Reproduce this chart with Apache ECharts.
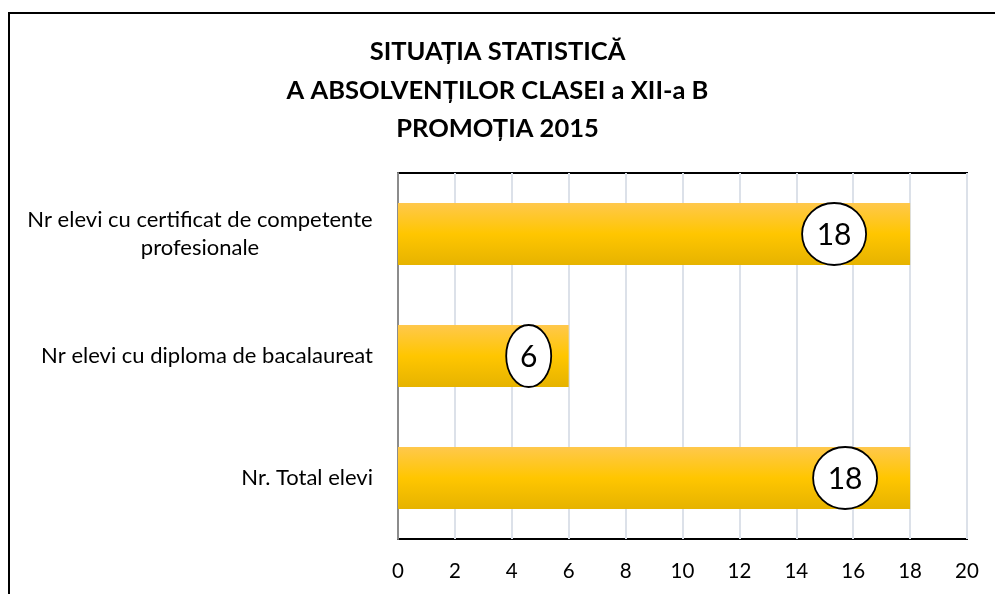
<!DOCTYPE html>
<html>
<head>
<meta charset="utf-8">
<script src="https://cdn.jsdelivr.net/npm/echarts@6/dist/echarts.min.js"></script>
<style>
  html, body { margin: 0; padding: 0; background: #fff; }
  #chart { width: 995px; height: 594px; }
</style>
</head>
<body>
<div id="chart"></div>
<script>
const titleLines = ["SITUAȚIA STATISTICĂ", "A ABSOLVENȚILOR CLASEI a XII-a B", "PROMOȚIA 2015"];
const categories = [
  "Nr. Total elevi",
  "Nr elevi cu diploma de bacalaureat",
  "Nr elevi cu certificat de competente profesionale",
];
const values = [18, 6, 18];
const xTicks = [0, 2, 4, 6, 8, 10, 12, 14, 16, 18, 20];

// callout bubbles sit a bit left of the bar end, like the Excel data callouts
const calloutShift = [65, 40, 76];
const calloutRx = [32, 22.5, 32];

const chart = echarts.init(document.getElementById("chart"));

const option = {
  animation: false,
  backgroundColor: "#fff",
  title: {
    text: titleLines.join("\n"),
    left: "center",
    top: 28,
    textStyle: {
      fontFamily: "Lato",
      fontWeight: "bold",
      fontSize: 25.5,
      lineHeight: 38.5,
      color: "#000",
    },
  },
  graphic: [
    {
      type: "rect",
      shape: { x: 9, y: 13, width: 1000, height: 600 },
      style: { fill: "none", stroke: "#000", lineWidth: 2 },
      silent: true,
    },
  ],
  grid: {
    left: 398,
    right: 28,
    top: 173,
    bottom: 55,
    show: true,
    borderColor: "#000",
    borderWidth: 2,
  },
  xAxis: {
    type: "value",
    min: xTicks[0],
    max: xTicks[xTicks.length - 1],
    interval: 2,
    axisLine: { show: false },
    axisTick: { show: false },
    axisLabel: {
      fontFamily: "Lato",
      fontSize: 20.5,
      color: "#000",
      margin: 22,
    },
    splitLine: { show: true, lineStyle: { color: "#dce1e9", width: 2 } },
  },
  yAxis: {
    type: "category",
    data: categories,
    axisLine: { show: true, lineStyle: { color: "#8c8c8c", width: 2 } },
    axisTick: { show: false },
    axisLabel: {
      margin: 25,
      color: "#000",
      fontFamily: "Lato",
      fontSize: 22,
      formatter: function (v) {
        if (v.indexOf("profesionale") >= 0) {
          return "{c|" + v.replace(" profesionale", "") + "}\n{c|profesionale}";
        }
        return v;
      },
      rich: {
        c: {
          width: 346,
          align: "center",
          fontFamily: "Lato",
          fontSize: 22,
          lineHeight: 28,
          color: "#000",
        },
      },
    },
  },
  series: [
    {
      type: "bar",
      data: values,
      barWidth: 62,
      itemStyle: {
        color: new echarts.graphic.LinearGradient(0, 0, 0, 1, [
          { offset: 0, color: "#ffc84c" },
          { offset: 0.5, color: "#ffc600" },
          { offset: 1, color: "#e6b300" },
        ]),
      },
      z: 2,
    },
    {
      type: "custom",
      data: values.map((v, i) => [v, i]),
      encode: { x: 0, y: 1 },
      z: 5,
      renderItem: function (params, api) {
        const end = api.coord([api.value(0), api.value(1)]);
        const i = params.dataIndex;
        const cx = end[0] - calloutShift[i];
        const cy = end[1];
        return {
          type: "group",
          children: [
            {
              type: "ellipse",
              shape: { cx: cx, cy: cy, rx: calloutRx[i], ry: 31 },
              style: { fill: "#fff", stroke: "#000", lineWidth: 1.8 },
            },
            {
              type: "text",
              style: {
                text: String(api.value(0)),
                x: cx,
                y: cy + 1,
                align: "center",
                verticalAlign: "middle",
                font: "30px Lato",
                fill: "#000",
              },
            },
          ],
        };
      },
    },
  ],
};

chart.setOption(option);
window.addEventListener("resize", chart.resize);
</script>
</body>
</html>
